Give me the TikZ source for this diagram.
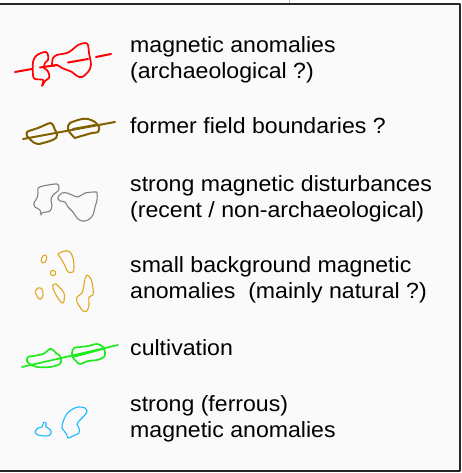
\documentclass[tikz,border=0pt]{standalone}
\usepackage{fontspec}
\setmainfont{Liberation Sans}
\definecolor{cRed}{RGB}{255,0,0}
\definecolor{cBrown}{RGB}{128,96,0}
\definecolor{cGrey}{RGB}{130,130,130}
\definecolor{cOrange}{RGB}{225,165,30}
\definecolor{cGreen}{RGB}{30,235,30}
\definecolor{cBlue}{RGB}{20,185,255}
\definecolor{cBg}{RGB}{250,250,250}
\newcommand{\wtxt}[1]{\scalebox{1.05}[1]{#1}}
\begin{document}
\begin{tikzpicture}[x=1pt,y=-1pt,
  lab/.style={anchor=base west,inner sep=0pt,font=\fontsize{22}{25}\selectfont},
  blob/.style={smooth cycle,tension=0.55},
  line join=round,line cap=round]
\useasboundingbox (0,0) rectangle (462,473);
\fill[white] (0,0) rectangle (462,473);
\draw[gray!60,line width=1pt] (289,0) -- (289,4);
\draw[fill=cBg,draw=black!85,line width=2pt] (-3,4.3) rectangle (460,471);

% 1 red
\begin{scope}[cRed,line width=1.7pt]
\draw[line width=2pt] (15,72) -- (32,69) (40,67.5) -- (57,65) (68,62.5) -- (88,59) (96,57) -- (111,54);
\draw plot[blob] coordinates {(42,86) (43,80) (35,79) (33,75) (33,62) (36,56) (41,53) (46,52) (48,55) (48,60) (45,63) (44,68) (47,70) (49,74) (49,78) (45,81)};
\draw plot[blob] coordinates {(52,65) (53,58) (57,55) (62,54) (67,53) (72,50) (78,45) (85,43) (88,45) (89,53) (91,65) (88,72) (82,77) (77,76) (72,72) (67,70) (62,68) (57,65) (53,66)};
\end{scope}
\node[lab] (t1a) at (130,53) {\wtxt{magnetic anomalies}};
\node[lab] (t1b) at (130,79) {\wtxt{(archaeological ?)}};

% 2 brown
\begin{scope}[cBrown,line width=2pt]
\draw (23,139) -- (115,122);
\draw (73,129) -- (95,125);
\draw plot[blob] coordinates {(27,132) (32,130) (38,128) (45,125) (50,123) (53,125) (55,130) (57,133) (56,138) (50,141) (43,143) (38,144) (33,142) (29,138) (27,136)};
\draw plot[blob] coordinates {(70,123) (75,121) (82,119) (88,119) (95,122) (99,127) (98,132) (92,133) (85,135) (78,137) (75,138) (72,135) (68,130) (68,126)};
\end{scope}
\node[lab] (t2) at (130,134) {\wtxt{former field boundaries ?}};

% 3 grey
\begin{scope}[cGrey,line width=1.1pt]
\draw plot[blob] coordinates {(38,188) (43,186) (48,185) (57,184) (59,187) (58,191) (53,195) (51,200) (52,206) (50,211) (46,212) (42,213) (41,215) (40,210) (35,207) (34,203) (37,198) (38,193)};
\draw plot[blob] coordinates {(58,197) (62,193) (67,193) (72,195) (78,197) (85,193) (95,192) (97,193) (97,200) (95,207) (93,215) (88,220) (82,221) (77,218) (73,212) (68,207) (65,202) (60,201) (58,199)};
\end{scope}
\node[lab] (t3a) at (130,191) {\wtxt{strong magnetic disturbances}};
\node[lab] (t3b) at (130,217) {\wtxt{(recent / non-archaeological)}};

% 4 orange
\begin{scope}[cOrange,line width=1.1pt]
\draw[rotate around={-20:(44,259)}] (44,259) ellipse (2.6pt and 4.2pt);
\draw (53,273) circle (2.7pt);
\draw plot[blob] coordinates {(58,254) (65,251) (70,252) (73,258) (74,267) (73,272) (68,272) (66,268) (63,262) (60,257)};
\draw plot[blob] coordinates {(35,292) (38,288) (42,289) (43,295) (41,299) (38,298) (36,294)};
\draw plot[blob] coordinates {(53,285) (56,284) (60,288) (64,293) (64,301) (62,303) (58,298) (55,293) (53,288)};
\draw plot[blob] coordinates {(87,275) (91,279) (93,288) (93,295) (89,297) (89,305) (87,311) (83,311) (80,307) (77,302) (77,297) (82,293) (84,285) (85,279)};
\end{scope}
\node[lab] (t4a) at (130,272) {\wtxt{small background magnetic}};
\node[lab] (t4b) at (130,298) {\wtxt{anomalies\ \ (mainly natural ?)}};

% 5 green
\begin{scope}[cGreen,line width=1.7pt]
\draw (22,367) -- (118,345);
\draw (73,357) -- (103,349);
\draw plot[blob] coordinates {(28,357) (33,356) (43,354) (50,349) (53,350) (56,353) (60,356) (61,362) (58,365) (50,367) (37,367) (30,364) (27,361)};
\draw plot[blob] coordinates {(72,353) (74,348) (80,347) (88,346) (97,344) (103,347) (105,352) (104,357) (97,360) (88,361) (80,364) (76,361) (73,358)};
\end{scope}
\node[lab] (t5) at (130,355) {\wtxt{cultivation}};

% 6 blue
\begin{scope}[cBlue,line width=1.1pt]
\draw plot[blob] coordinates {(35,432) (38,428) (42,427) (43,424) (44,422) (46,423) (46,427) (48,428) (51,431) (50,435) (45,436) (38,435)};
\draw plot[blob] coordinates {(63,422) (66,415) (71,410) (78,407) (85,408) (87,412) (83,417) (80,420) (77,424) (79,428) (79,433) (73,436) (68,438) (67,435) (65,432) (62,428)};
\end{scope}
\node[lab] (t6a) at (130,411) {\wtxt{strong (ferrous)}};
\node[lab] (t6b) at (130,437) {\wtxt{magnetic anomalies}};
\end{tikzpicture}
\end{document}
